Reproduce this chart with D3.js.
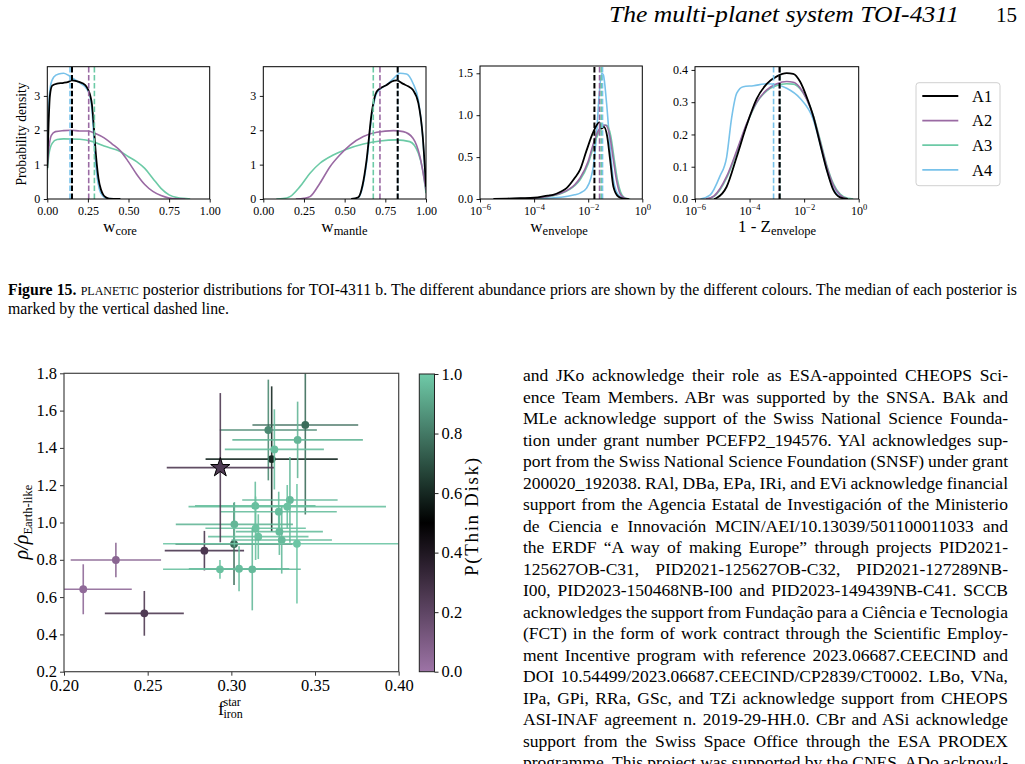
<!DOCTYPE html>
<html>
<head>
<meta charset="utf-8">
<script src="https://cdn.jsdelivr.net/npm/d3@7"></script>
<style>
  body { margin: 0; background: #fff; }
  svg { display: block; }
  text { font-family: "Liberation Serif", "Times New Roman", serif; fill: #000; }
</style>
</head>
<body>
<script>
// ---------------------------------------------------------------------------
// Data: posterior densities
const priors = ['A1', 'A2', 'A3', 'A4'];
const priorColors = ['#000000', '#9a6aa3', '#6ccaa6', '#78c2ea'];

// w_core
const coreA1 = [[0,0.9],[0.008,2.2],[0.016,3.0],[0.03,3.3],[0.06,3.36],[0.1,3.38],[0.13,3.41],[0.15,3.45],[0.18,3.43],[0.2,3.4],[0.23,3.33],[0.25,3.2],[0.265,3.0],[0.275,2.75],[0.285,2.2],[0.295,1.55],[0.305,1.0],[0.315,0.6],[0.33,0.28],[0.345,0.12],[0.36,0.05],[0.38,0.01],[0.45,0]];
const coreA2 = [[0,1.0],[0.01,1.5],[0.025,1.85],[0.05,1.96],[0.1,1.99],[0.15,2.0],[0.2,1.98],[0.25,1.98],[0.3,1.9],[0.35,1.78],[0.4,1.6],[0.45,1.4],[0.5,1.08],[0.55,0.72],[0.6,0.42],[0.65,0.22],[0.7,0.1],[0.75,0.03],[0.8,0.005],[0.85,0]];
const coreA3 = [[0,0.85],[0.01,1.3],[0.03,1.62],[0.06,1.73],[0.1,1.75],[0.2,1.74],[0.28,1.67],[0.35,1.54],[0.45,1.38],[0.5,1.23],[0.55,1.09],[0.6,0.89],[0.65,0.6],[0.7,0.31],[0.75,0.12],[0.8,0.04],[0.88,0]];
const coreA4 = [[0,1.2],[0.008,2.6],[0.02,3.3],[0.04,3.55],[0.07,3.64],[0.1,3.66],[0.13,3.6],[0.16,3.5],[0.2,3.38],[0.23,3.28],[0.25,3.15],[0.265,2.95],[0.275,2.6],[0.285,1.9],[0.295,1.2],[0.305,0.7],[0.32,0.3],[0.34,0.1],[0.36,0.03],[0.4,0.005],[0.45,0]];
const coreMedians = [0.152, 0.255, 0.29, 0.14];

// w_mantle
const mantleA1 = [[0.54,0],[0.584,0.05],[0.61,0.4],[0.635,1.14],[0.666,2.5],[0.697,3.13],[0.73,3.25],[0.758,3.32],[0.79,3.42],[0.82,3.45],[0.86,3.35],[0.89,3.28],[0.92,3.17],[0.953,2.79],[0.98,1.82],[1.0,0.36]];
const mantleA2 = [[0.2,0],[0.25,0.02],[0.287,0.07],[0.348,0.46],[0.41,0.94],[0.47,1.28],[0.533,1.57],[0.615,1.82],[0.697,1.94],[0.8,1.99],[0.86,1.96],[0.92,1.77],[0.963,1.23],[1.0,0.26]];
const mantleA3 = [[0.08,0],[0.12,0.01],[0.164,0.07],[0.225,0.36],[0.287,0.75],[0.348,1.04],[0.43,1.28],[0.512,1.45],[0.615,1.6],[0.717,1.69],[0.82,1.72],[0.9,1.67],[0.953,1.33],[0.98,0.84],[1.0,0.17]];
const mantleA4 = [[0.54,0],[0.584,0.04],[0.61,0.35],[0.635,1.05],[0.666,2.4],[0.697,3.08],[0.73,3.24],[0.758,3.32],[0.8,3.5],[0.84,3.66],[0.88,3.64],[0.92,3.37],[0.953,2.88],[0.98,1.82],[1.0,0.26]];
const mantleMedians = [0.826, 0.717, 0.676, 0.826];

// w_envelope (log10 of w)
const envA1 = [[-5.5,0],[-4.5,0.01],[-4,0.015],[-3.5,0.04],[-3.3,0.05],[-3,0.09],[-2.8,0.13],[-2.5,0.25],[-2.3,0.35],[-2.06,0.58],[-1.81,0.8],[-1.59,0.915],[-1.5,0.84],[-1.42,0.86],[-1.3,0.75],[-1.19,0.47],[-1.07,0.15],[-0.89,0.03],[-0.7,0.005],[-0.5,0]];
const envA2 = [[-5.5,0],[-4.5,0.005],[-4,0.01],[-3.5,0.03],[-3,0.07],[-2.5,0.17],[-2.3,0.25],[-2.0,0.45],[-1.81,0.66],[-1.6,0.83],[-1.45,0.88],[-1.35,0.88],[-1.2,0.75],[-1.07,0.47],[-0.95,0.22],[-0.83,0.07],[-0.7,0.02],[-0.5,0]];
const envA3 = [[-5.5,0],[-4.5,0.005],[-4,0.01],[-3.5,0.028],[-3,0.065],[-2.5,0.16],[-2.3,0.23],[-2.0,0.42],[-1.81,0.62],[-1.6,0.8],[-1.42,0.88],[-1.32,0.88],[-1.17,0.76],[-1.04,0.48],[-0.92,0.23],[-0.8,0.08],[-0.67,0.02],[-0.45,0]];
const envA4 = [[-5,0],[-4,0.005],[-3,0.02],[-2.5,0.05],[-2.3,0.07],[-2.06,0.13],[-1.9,0.25],[-1.81,0.39],[-1.69,0.78],[-1.59,1.26],[-1.5,1.5],[-1.44,1.48],[-1.32,1.14],[-1.19,0.62],[-1.07,0.23],[-0.89,0.05],[-0.7,0.01],[-0.5,0]];
const envMedians = [-1.77, -1.58, -1.52, -1.47];

// 1 - Z_envelope (log10)
const zenvA1 = [[-5.3,0],[-5.21,0.003],[-4.84,0.038],[-4.47,0.131],[-4.1,0.23],[-3.74,0.31],[-3.37,0.357],[-3.0,0.38],[-2.64,0.39],[-2.4,0.388],[-2.15,0.364],[-1.91,0.317],[-1.66,0.255],[-1.42,0.173],[-1.17,0.09],[-0.93,0.028],[-0.68,0.005],[-0.4,0]];
const zenvA2 = [[-5.6,0],[-5.3,0.01],[-4.84,0.07],[-4.47,0.15],[-4.1,0.235],[-3.74,0.3],[-3.37,0.338],[-3.0,0.357],[-2.64,0.364],[-2.4,0.362],[-2.15,0.345],[-1.91,0.31],[-1.66,0.255],[-1.42,0.18],[-1.17,0.1],[-0.93,0.043],[-0.68,0.012],[-0.4,0]];
const zenvA3 = [[-5.6,0],[-5.3,0.008],[-4.84,0.065],[-4.47,0.145],[-4.1,0.232],[-3.74,0.298],[-3.37,0.335],[-3.0,0.352],[-2.64,0.357],[-2.4,0.356],[-2.15,0.342],[-1.91,0.31],[-1.66,0.258],[-1.42,0.185],[-1.17,0.105],[-0.93,0.048],[-0.68,0.015],[-0.4,0.002],[-0.2,0]];
const zenvA4 = [[-5.8,0],[-5.45,0.012],[-5.09,0.07],[-4.84,0.13],[-4.66,0.25],[-4.47,0.328],[-4.23,0.348],[-3.86,0.351],[-3.37,0.357],[-3.0,0.354],[-2.64,0.343],[-2.15,0.312],[-1.66,0.245],[-1.42,0.173],[-1.17,0.09],[-0.93,0.033],[-0.68,0.007],[-0.4,0]];
const zenvMedians = [-2.9, -2.9, -2.88, -3.12];

// Scatter: stellar iron fraction vs. relative density
const fIron    = [0.2115, 0.231, 0.248, 0.2839, 0.3016, 0.3241, 0.3221, 0.3442, 0.3396, 0.3257, 0.3143, 0.335, 0.3334, 0.3283, 0.3018, 0.3145, 0.3287, 0.3161, 0.3301, 0.3392, 0.2932, 0.3046, 0.3125];
const fIronErr = [0.029, 0.027, 0.0236, 0.0237, 0.035, 0.0395, 0.029, 0.0316, 0.039, 0.0296, 0.036, 0.0285, 0.059, 0.0347, 0.035, 0.03, 0.026, 0.03, 0.03, 0.08, 0.034, 0.03, 0.029];
const rhoRel   = [0.642, 0.799, 0.513, 0.849, 0.885, 1.340, 1.496, 1.523, 1.443, 1.392, 1.089, 1.121, 1.085, 1.058, 0.990, 0.969, 0.951, 0.924, 0.906, 0.886, 0.749, 0.752, 0.749];
const rhoErr   = [0.134, 0.093, 0.12, 0.106, 0.22, 0.39, 0.27, 0.48, 0.205, 0.215, 0.13, 0.23, 0.116, 0.107, 0.12, 0.17, 0.125, 0.12, 0.18, 0.32, 0.05, 0.12, 0.22];
const pThinDisk = [0.04, 0.06, 0.25, 0.26, 0.76, 0.6, 0.84, 0.77, 0.95, 0.97, 0.97, 0.96, 0.98, 0.97, 0.95, 0.98, 0.97, 0.98, 0.96, 0.99, 0.98, 0.97, 0.96];
// TOI-4311 b
const toiFIron = [0.2934], toiFIronErr = [0.032], toiRho = [1.294], toiRhoErr = [0.40], toiPThin = [0.25];

const scatterXTicks = [0.20, 0.25, 0.30, 0.35, 0.40];
const scatterYTicks = [0.2, 0.4, 0.6, 0.8, 1.0, 1.2, 1.4, 1.6, 1.8];
const colorbarTicks = [0.0, 0.2, 0.4, 0.6, 0.8, 1.0];

// ---------------------------------------------------------------------------
const svg = d3.select('body').append('svg')
  .attr('width', 1025).attr('height', 764);
svg.append('rect').attr('width', 1025).attr('height', 764).attr('fill', '#fff');
const defs = svg.append('defs');

// stretch the word gaps of a line so that it fills the given width
function justify(sel, width) {
  sel.each(function(d) {
    const w = this.getComputedTextLength();
    const gaps = (this.textContent.match(/ /g) || []).length;
    if (gaps > 0) d3.select(this).attr('word-spacing', (width - w) / gaps);
  });
}

// running header
svg.append('text').attr('x', 609).attr('y', 22).attr('font-size', 24)
  .attr('font-style', 'italic').attr('textLength', 350).attr('lengthAdjust', 'spacingAndGlyphs')
  .text('The multi-planet system TOI-4311');
svg.append('text').attr('x', 1017).attr('y', 22).attr('font-size', 21)
  .attr('text-anchor', 'end').text('15');

// ---------------------------------------------------------------------------
// density panels
function supTick(sel, exps) {
  sel.each(function(d, i) {
    const t = d3.select(this).text('');
    t.append('tspan').text('10');
    t.append('tspan').attr('font-size', 8.5).attr('dy', -5)
      .text(exps[i] === 0 ? '0' : '\u2212' + Math.abs(exps[i]));
  });
}

function densityPanel(opt) {
  const g = svg.append('g');
  const x = opt.log
    ? d3.scaleLog().domain([1e-6, 1]).range([opt.x0, opt.x1])
    : d3.scaleLinear().domain([0, 1]).range([opt.x0, opt.x1]);
  const y = d3.scaleLinear().domain([0, opt.ymax]).range([opt.y1, opt.y0]);
  const xv = v => opt.log ? Math.pow(10, v) : v;

  const clipId = 'clip-' + opt.id;
  defs.append('clipPath').attr('id', clipId).append('rect')
    .attr('x', opt.x0).attr('y', opt.y0).attr('width', opt.x1 - opt.x0).attr('height', opt.y1 - opt.y0);
  const plot = g.append('g').attr('clip-path', `url(#${clipId})`);

  const line = d3.line().x(d => x(xv(d[0]))).y(d => y(d[1])).curve(d3.curveMonotoneX);
  // draw A4, A3, A2 first, black on top
  [3, 2, 1, 0].forEach(k => {
    plot.append('path').attr('d', line(opt.curves[k])).attr('fill', 'none')
      .attr('stroke', priorColors[k]).attr('stroke-width', k === 0 ? 1.8 : 1.6);
  });
  [3, 2, 1, 0].forEach(k => {
    plot.append('line')
      .attr('x1', x(xv(opt.medians[k]))).attr('x2', x(xv(opt.medians[k])))
      .attr('y1', y(0)).attr('y2', opt.y0)
      .attr('stroke', priorColors[k]).attr('stroke-width', k === 0 ? 2 : 1.6)
      .attr('stroke-dasharray', '5.5,2.4');
  });

  // axes
  const xAxis = d3.axisBottom(x).tickSizeOuter(0).tickSize(3.5).tickPadding(3.5);
  if (opt.log) xAxis.tickValues([1e-6, 1e-4, 1e-2, 1]);
  else xAxis.tickValues([0, 0.25, 0.5, 0.75, 1]).tickFormat(d3.format('.2f'));
  const gx = g.append('g').attr('transform', `translate(0,${opt.y1})`).call(xAxis);
  gx.select('.domain').remove();
  gx.selectAll('text').attr('font-size', 12);
  if (opt.log) supTick(gx.selectAll('text'), [-6, -4, -2, 0]);

  const yAxis = d3.axisLeft(y).tickValues(opt.yTicks).tickFormat(d3.format(opt.yFmt))
    .tickSizeOuter(0).tickSize(3.5).tickPadding(3.5);
  const gy = g.append('g').attr('transform', `translate(${opt.x0},0)`).call(yAxis);
  gy.select('.domain').remove();
  gy.selectAll('text').attr('font-size', 12).attr('dy', '0.3em');
  g.selectAll('.tick line').attr('stroke', '#000').attr('stroke-width', 0.9);

  g.append('rect').attr('x', opt.x0).attr('y', opt.y0)
    .attr('width', opt.x1 - opt.x0).attr('height', opt.y1 - opt.y0)
    .attr('fill', 'none').attr('stroke', '#000').attr('stroke-width', 1);

  const lab = g.append('text').attr('x', opt.labelX).attr('y', 232).attr('text-anchor', 'middle');
  lab.append('tspan').attr('font-size', 17).text(opt.label);
  lab.append('tspan').attr('font-size', 12.5).attr('dy', 3).text(opt.sub);
  return g;
}

densityPanel({ id: 'core', x0: 47.3, x1: 209.7, y0: 66.7, y1: 199, ymax: 3.85,
  curves: [coreA1, coreA2, coreA3, coreA4], medians: coreMedians,
  yTicks: [0, 1, 2, 3], yFmt: 'd', label: 'w', sub: 'core', labelX: 120 });
densityPanel({ id: 'mantle', x0: 263.3, x1: 426, y0: 66.7, y1: 199, ymax: 3.85,
  curves: [mantleA1, mantleA2, mantleA3, mantleA4], medians: mantleMedians,
  yTicks: [0, 1, 2, 3], yFmt: 'd', label: 'w', sub: 'mantle', labelX: 344.5 });
densityPanel({ id: 'env', x0: 480, x1: 642.3, y0: 66, y1: 199, ymax: 1.587, log: true,
  curves: [envA1, envA2, envA3, envA4], medians: envMedians,
  yTicks: [0, 0.5, 1.0, 1.5], yFmt: '.1f', label: 'w', sub: 'envelope', labelX: 559 });
densityPanel({ id: 'zenv', x0: 695, x1: 858.7, y0: 66.7, y1: 199, ymax: 0.41, log: true,
  curves: [zenvA1, zenvA2, zenvA3, zenvA4], medians: zenvMedians,
  yTicks: [0, 0.1, 0.2, 0.3, 0.4], yFmt: '.1f', label: '1 - Z', sub: 'envelope', labelX: 777 });

svg.append('text').attr('transform', 'translate(25.5,134) rotate(-90)')
  .attr('text-anchor', 'middle').attr('font-size', 13.6).text('Probability density');

// legend
const leg = svg.append('g');
leg.append('rect').attr('x', 916).attr('y', 82.7).attr('width', 84).attr('height', 103)
  .attr('rx', 3).attr('fill', '#fff').attr('stroke', '#d0d0d0').attr('stroke-width', 1);
priors.forEach((p, i) => {
  const yy = 96 + i * 24.6;
  leg.append('line').attr('x1', 922.3).attr('x2', 958.3).attr('y1', yy).attr('y2', yy)
    .attr('stroke', priorColors[i]).attr('stroke-width', i === 0 ? 2 : 1.8);
  leg.append('text').attr('x', 972).attr('y', yy + 5.8).attr('font-size', 16.5).text(p);
});

// caption
const cap = svg.append('text').attr('x', 8).attr('y', 295).attr('font-size', 15.8);
cap.append('tspan').attr('font-weight', 'bold').text('Figure 15.');
cap.append('tspan').text(' ');
cap.append('tspan').attr('font-size', 12).text('PLANETIC');
cap.append('tspan').text(' posterior distributions for TOI-4311 b. The different abundance priors are shown by the different colours. The median of each posterior is');
justify(cap, 1009);
svg.append('text').attr('x', 8).attr('y', 314).attr('font-size', 15.8)
  .text('marked by the vertical dashed line.');

// ---------------------------------------------------------------------------
// scatter
const xS = d3.scaleLinear().domain([0.2, 0.4]).range([64, 398.7]);
const yS = d3.scaleLinear().domain([0.2, 1.8]).range([671.7, 373.3]);
const cmap = d3.scaleLinear().domain([0, 0.5, 1]).range(['#9d73a6', '#000000', '#6fcaa8']);

defs.append('clipPath').attr('id', 'clip-sc').append('rect')
  .attr('x', 64).attr('y', 373.3).attr('width', 334.7).attr('height', 298.4);
const sc = svg.append('g');
const scPlot = sc.append('g').attr('clip-path', 'url(#clip-sc)');

function errorPoint(g, d) {
  const c = cmap(d.p);
  g.append('line').attr('x1', xS(d.f - d.fe)).attr('x2', xS(d.f + d.fe))
    .attr('y1', yS(d.r)).attr('y2', yS(d.r)).attr('stroke', c).attr('stroke-width', 1.6).attr('opacity', 0.9);
  g.append('line').attr('x1', xS(d.f)).attr('x2', xS(d.f))
    .attr('y1', yS(d.r - d.re)).attr('y2', yS(d.r + d.re)).attr('stroke', c).attr('stroke-width', 1.6).attr('opacity', 0.9);
  return c;
}

const pts = fIron.map((f, i) => ({ f, fe: fIronErr[i], r: rhoRel[i], re: rhoErr[i], p: pThinDisk[i] }));
pts.forEach(d => {
  const g = scPlot.append('g');
  const c = errorPoint(g, d);
  g.append('circle').attr('cx', xS(d.f)).attr('cy', yS(d.r)).attr('r', 3.9).attr('fill', c);
});

const toi = toiFIron.map((f, i) => ({ f, fe: toiFIronErr[i], r: toiRho[i], re: toiRhoErr[i], p: toiPThin[i] }));
toi.forEach(d => {
  const g = scPlot.append('g');
  const c = errorPoint(g, d);
  g.append('path').attr('d', d3.symbol(d3.symbolStar, 115)())
    .attr('transform', `translate(${xS(d.f)},${yS(d.r)})`)
    .attr('fill', c).attr('stroke', '#000').attr('stroke-width', 1);
});

const sxAxis = d3.axisBottom(xS).tickValues(scatterXTicks).tickFormat(d3.format('.2f'))
  .tickSizeOuter(0).tickSize(4).tickPadding(4);
const gsx = sc.append('g').attr('transform', 'translate(0,671.7)').call(sxAxis);
const syAxis = d3.axisLeft(yS).tickValues(scatterYTicks).tickFormat(d3.format('.1f'))
  .tickSizeOuter(0).tickSize(4).tickPadding(3);
const gsy = sc.append('g').attr('transform', 'translate(64,0)').call(syAxis);
[gsx, gsy].forEach(a => {
  a.select('.domain').remove();
  a.selectAll('text').attr('font-size', 16.5);
  a.selectAll('.tick line').attr('stroke', '#333');
});
gsy.selectAll('text').attr('dy', '0.3em');
sc.append('rect').attr('x', 64).attr('y', 373.3).attr('width', 334.7).attr('height', 298.4)
  .attr('fill', 'none').attr('stroke', '#444').attr('stroke-width', 1.2);

const xl = sc.append('g');
xl.append('text').attr('x', 218).attr('y', 715).attr('font-size', 19).text('f');
xl.append('text').attr('x', 223.5).attr('y', 705.5).attr('font-size', 12).text('star');
xl.append('text').attr('x', 223.5).attr('y', 717.5).attr('font-size', 12).text('iron');

const yl = sc.append('text').attr('transform', 'translate(28,522) rotate(-90)')
  .attr('text-anchor', 'middle');
yl.append('tspan').attr('font-size', 20).attr('font-style', 'italic').text('\u03c1/\u03c1');
yl.append('tspan').attr('font-size', 12.5).attr('dy', 4).text('Earth-like');

// colorbar
const grad = defs.append('linearGradient').attr('id', 'cb-grad')
  .attr('x1', 0).attr('y1', 1).attr('x2', 0).attr('y2', 0);
d3.range(0, 1.0001, 0.05).forEach(t => {
  grad.append('stop').attr('offset', t).attr('stop-color', cmap(t));
});
const cbY = d3.scaleLinear().domain([0, 1]).range([671.7, 374]);
svg.append('rect').attr('x', 419.3).attr('y', 374).attr('width', 15.2).attr('height', 297.7)
  .attr('fill', 'url(#cb-grad)').attr('stroke', '#222').attr('stroke-width', 1);
const gcb = svg.append('g').attr('transform', 'translate(434.5,0)')
  .call(d3.axisRight(cbY).tickValues(colorbarTicks).tickFormat(d3.format('.1f')).tickSizeOuter(0).tickSize(4).tickPadding(3));
gcb.select('.domain').remove();
gcb.selectAll('text').attr('font-size', 16.5);
gcb.selectAll('.tick line').attr('stroke', '#222');
svg.append('text').attr('transform', 'translate(478,517) rotate(-90)')
  .attr('text-anchor', 'middle').attr('font-size', 19).attr('textLength', 118)
  .text('P(Thin Disk)');

// ---------------------------------------------------------------------------
// body text column
const bodyLines = [
  'and JKo acknowledge their role as ESA-appointed CHEOPS Sci-',
  'ence Team Members. ABr was supported by the SNSA. BAk and',
  'MLe acknowledge support of the Swiss National Science Founda-',
  'tion under grant number PCEFP2_194576. YAl acknowledges sup-',
  'port from the Swiss National Science Foundation (SNSF) under grant',
  '200020_192038. RAl, DBa, EPa, IRi, and EVi acknowledge financial',
  'support from the Agencia Estatal de Investigación of the Ministerio',
  'de Ciencia e Innovación MCIN/AEI/10.13039/501100011033 and',
  'the ERDF \u201cA way of making Europe\u201d through projects PID2021-',
  '125627OB-C31, PID2021-125627OB-C32, PID2021-127289NB-',
  'I00, PID2023-150468NB-I00 and PID2023-149439NB-C41. SCCB',
  'acknowledges the support from Fundação para a Ciência e Tecnologia',
  '(FCT) in the form of work contract through the Scientific Employ-',
  'ment Incentive program with reference 2023.06687.CEECIND and',
  'DOI 10.54499/2023.06687.CEECIND/CP2839/CT0002. LBo, VNa,',
  'IPa, GPi, RRa, GSc, and TZi acknowledge support from CHEOPS',
  'ASI-INAF agreement n. 2019-29-HH.0. CBr and ASi acknowledge',
  'support from the Swiss Space Office through the ESA PRODEX',
  'programme. This project was supported by the CNES. ADo acknowl-'
];
const body = svg.append('g').selectAll('text').data(bodyLines).join('text')
  .attr('x', 523).attr('y', (d, i) => 381 + i * 21.5)
  .attr('font-size', 17.5)
  .text(d => d);
justify(body, 485);
</script>
</body>
</html>
